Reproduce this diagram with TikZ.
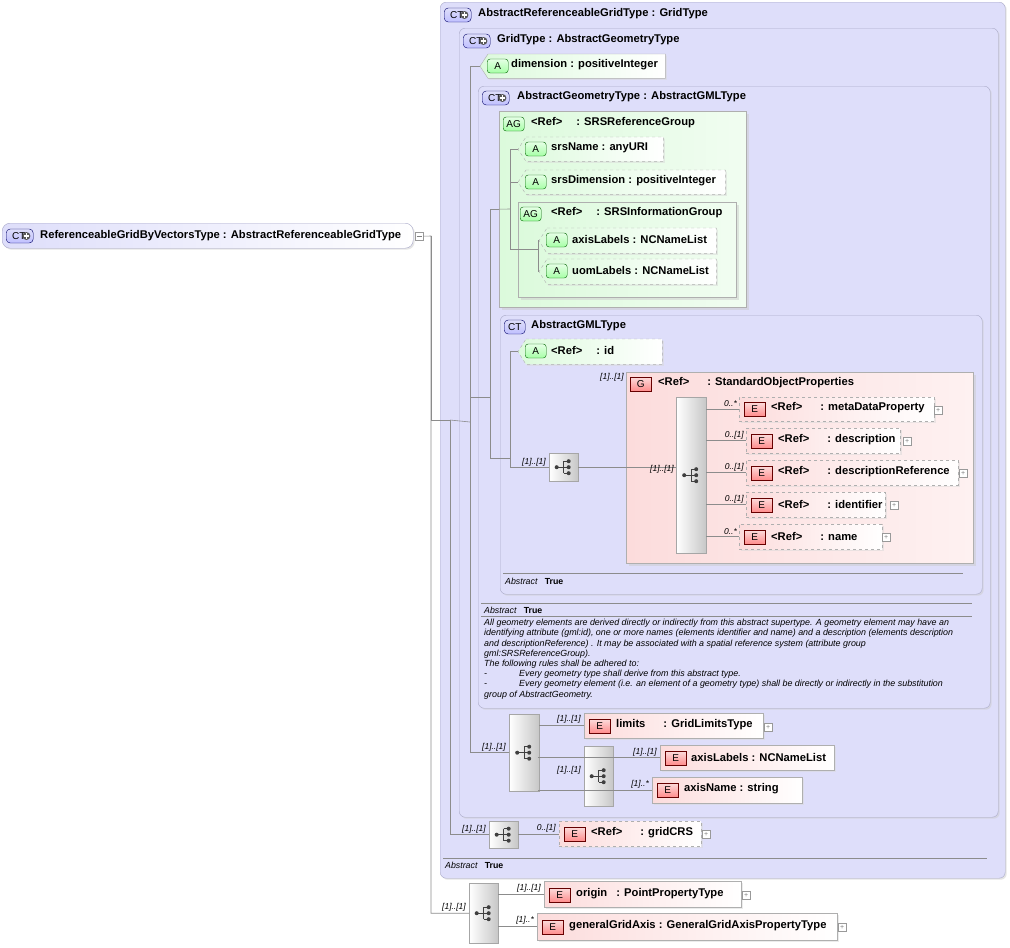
\documentclass[tikz,border=0pt]{standalone}
\usepackage{fontspec}
\setmainfont{Liberation Sans}
\usetikzlibrary{calc,shadows}
\definecolor{lav}{RGB}{222,222,250}
\definecolor{lavd}{RGB}{170,170,200}
\definecolor{grn}{RGB}{220,250,220}
\definecolor{pnk}{RGB}{252,220,220}
\definecolor{bord}{RGB}{175,175,175}
\definecolor{conn}{RGB}{140,140,140}
\tikzset{
 box/.style={anchor=north west,inner sep=0,draw=bord},
 ct/.style={box,fill=lav,draw=lavd,rounded corners=6pt,drop shadow={shadow xshift=1.5pt,shadow yshift=-1.5pt,fill=black!20}},
 grp/.style={box,left color=grn,right color=grn!40!white,draw=bord,drop shadow={shadow xshift=2.5pt,shadow yshift=-2.5pt,fill=black!20}},
 pgrp/.style={box,left color=pnk,right color=pnk!40!white,draw=bord,drop shadow={shadow xshift=2.5pt,shadow yshift=-2.5pt,fill=black!20}},
 el/.style={box,left color=pnk,right color=white,drop shadow={shadow xshift=1.5pt,shadow yshift=-1.5pt,fill=black!15}},
 opt/.style={dashed},
 seq/.style={box,left color=white,right color=black!22,draw=black!35},
 lbl/.style={anchor=west,inner sep=0,font=\bfseries\fontsize{11.2}{12}\selectfont},
 mul/.style={anchor=south east,inner sep=0,font=\itshape\fontsize{8.5}{9}\selectfont},
 abs/.style={anchor=west,inner sep=0,font=\fontsize{8.8}{9}\selectfont},
 cn/.style={draw=conn,line width=0.6pt},
 bE/.style={anchor=west,minimum width=21pt,minimum height=14pt,inner sep=0,draw=black!60!red,top color=pnk,bottom color=red!45,font=\fontsize{10}{10}\selectfont},
 bA/.style={anchor=west,minimum width=21pt,minimum height=14pt,inner sep=0,draw=black!60!green,top color=green!10,bottom color=green!35,rounded corners=3pt,font=\fontsize{10}{10}\selectfont},
 bC/.style={anchor=west,minimum width=27pt,minimum height=14pt,inner sep=0,draw=blue!40!black,top color=lav,bottom color=blue!25,rounded corners=4pt,font=\fontsize{10}{10}\selectfont},
 pl/.style={anchor=west,minimum size=8pt,inner sep=0,draw=black!40,fill=white,font=\fontsize{7}{7}\selectfont,text=black!50},
}
\newcommand\bx[6][]{\node[#1,minimum width={#5-#3},minimum height={#6-#4}] (#2) at (#3,#4) {};}
\newcommand\attr[6][]{\bx[box,draw=none,#1]{#2}{#3}{#4}{#5}{#6}
 \draw[draw=bord,left color=grn,right color=white,#1,drop shadow={shadow xshift=1.5pt,shadow yshift=-1.5pt,fill=black!15}] ($(#2.north west)+(8,0)$) -- (#2.north east) -- (#2.south east) -- ($(#2.south west)+(8,0)$) -- (#2.west) -- cycle;}
\newcommand\seqicon[1]{%
 \fill[black!75] ($(#1.center)+(-7,0)$) circle (2pt) ($(#1.center)+(5,-6)$) circle (2pt) ($(#1.center)+(5,0)$) circle (2pt) ($(#1.center)+(5,6)$) circle (2pt);
 \draw[black!75,line width=0.7pt] ($(#1.center)+(-7,0)$) -- ($(#1.center)+(5,0)$) ($(#1.center)+(0,-6)$) -- ($(#1.center)+(0,6)$) ($(#1.center)+(0,-6)$) -- ($(#1.center)+(5,-6)$) ($(#1.center)+(0,6)$) -- ($(#1.center)+(5,6)$);}
\newcommand\ctplus[2]{\node[bC] (#1) at (#2) {\hspace{-2pt}CT\hspace{9pt}};
 \fill[black!65] ($(#1.east)+(-7,0)$) circle (4pt);
 \draw[white,line width=1.3pt] ($(#1.east)+(-9.8,0)$) -- ($(#1.east)+(-4.2,0)$) ($(#1.east)+(-7,-2.8)$) -- ($(#1.east)+(-7,2.8)$);}
\begin{document}
\begin{tikzpicture}[x=1pt,y=-1pt]
\useasboundingbox (0,0) rectangle (1010,948);
\fill[white] (0,0) rectangle (1010,948);
% outer boxes
\bx[ct]{outer}{440}{2}{1005}{878}
\bx[ct]{grid}{459}{28}{998}{817}
\bx[ct]{geom}{478}{86}{990}{708}
\bx[grp]{srs}{499}{111}{746}{307}
\bx[grp]{srsi}{518}{202}{736}{297}
\bx[ct]{gml}{500}{315}{982}{594}
\bx[pgrp]{sop}{626}{372}{973}{563}
% root
\bx[ct,left color=lav,right color=white,rounded corners=8pt]{root}{2}{223}{413}{248}
\node[box,minimum size=8pt,fill=white,draw=black!40] (rm) at (415,232) {};
\draw[black!50] ($(rm.center)+(-2.5,0)$) -- ($(rm.center)+(2.5,0)$);
\ctplus{rc}{6,236}
\node[lbl] (rt) at (40,236) {ReferenceableGridByVectorsType : AbstractReferenceableGridType};
% headers
\ctplus{c1}{444,15}
\node[lbl] (t1) at (478,14) {AbstractReferenceableGridType : GridType};
\ctplus{c2}{463,41}
\node[lbl] (t2) at (497,40) {GridType : AbstractGeometryType};
\ctplus{c3}{482,98}
\node[lbl] (t3) at (517,97) {AbstractGeometryType : AbstractGMLType};
\node[bC,minimum width=21pt] (c4) at (504,327) {CT};
\node[lbl] (t4) at (531,326) {AbstractGMLType};
\node[bA] (g1) at (503,124) {AG}; \node[lbl] (t5) at (531,123) {<Ref>\hspace{14pt}: SRSReferenceGroup};
\node[bA] (g2) at (520,214) {AG}; \node[lbl] (t6) at (551,213) {<Ref>\hspace{14pt}: SRSInformationGroup};
\node[bE] (g3) at (630,384) {G}; \node[lbl] (t7) at (658,383) {<Ref>\hspace{18pt}: StandardObjectProperties};
\node[mul] (m0) at (624,381) {[1]..[1]};
% attributes
\attr{dim}{480}{54}{665}{78} \node[bA] (a1) at (487,66) {A}; \node[lbl] (ta1) at (511,65) {dimension : positiveInteger};
\attr[dashed]{sn}{518}{137}{663}{161} \node[bA] (a2) at (525,149) {A}; \node[lbl] (ta2) at (551,148) {srsName : anyURI};
\attr[dashed]{sd}{518}{170}{725}{194} \node[bA] (a3) at (525,182) {A}; \node[lbl] (ta3) at (551,181) {srsDimension : positiveInteger};
\attr[dashed]{al}{539}{228}{716}{253} \node[bA] (a4) at (546,240) {A}; \node[lbl] (ta4) at (572,239) {axisLabels : NCNameList};
\attr[dashed]{ul}{539}{259}{716}{284} \node[bA] (a5) at (546,271) {A}; \node[lbl] (ta5) at (572,270) {uomLabels : NCNameList};
\attr[dashed]{id}{518}{339}{662}{364} \node[bA] (a6) at (525,351) {A}; \node[lbl] (ta6) at (551,350) {<Ref>\hspace{14pt}: id};
% SOP
\bx[seq]{bar}{676}{397}{706}{553} \seqicon{bar}
\bx[seq]{ss}{549}{453}{578}{481} \seqicon{ss}
\bx[el,opt]{e1}{739}{397}{934}{421} \node[bE] (b1) at (744,409) {E}; \node[lbl] (te1) at (771,408) {<Ref>\hspace{18pt}: metaDataProperty}; \node[pl] (p1) at (934,410) {+};
\bx[el,opt]{e2}{746}{428}{900}{453} \node[bE] (b2) at (751,441) {E}; \node[lbl] (te2) at (778,440) {<Ref>\hspace{18pt}: description}; \node[pl] (p2) at (903,441) {+};
\bx[el,opt]{e3}{746}{460}{958}{485} \node[bE] (b3) at (751,473) {E}; \node[lbl] (te3) at (778,472) {<Ref>\hspace{18pt}: descriptionReference}; \node[pl] (p3) at (959,473) {+};
\bx[el,opt]{e4}{746}{492}{885}{517} \node[bE] (b4) at (751,505) {E}; \node[lbl] (te4) at (778,504) {<Ref>\hspace{18pt}: identifier}; \node[pl] (p4) at (890,505) {+};
\bx[el,opt]{e5}{739}{524}{882}{549} \node[bE] (b5) at (744,537) {E}; \node[lbl] (te5) at (771,536) {<Ref>\hspace{18pt}: name}; \node[pl] (p5) at (882,537) {+};
% grid content
\bx[seq]{ls}{509}{714}{539}{791} \seqicon{ls}
\bx[el]{lim}{584}{713}{763}{738} \node[bE] (b6) at (589,726) {E}; \node[lbl] (te6) at (616,725) {limits\hspace{18pt}: GridLimitsType}; \node[pl] (p6) at (764,727) {+};
\bx[seq]{s2}{584}{746}{613}{806} \seqicon{s2}
\bx[el]{axl}{660}{745}{834}{770} \node[bE] (b7) at (665,758) {E}; \node[lbl] (te7) at (691,757) {axisLabels : NCNameList};
\bx[el]{axn}{652}{777}{802}{803} \node[bE] (b8) at (657,790) {E}; \node[lbl] (te8) at (684,789) {axisName : string};
\bx[seq]{gs}{489}{821}{518}{848} \seqicon{gs}
\bx[el,opt]{gc}{559}{821}{701}{846} \node[bE] (b9) at (564,834) {E}; \node[lbl] (te9) at (591,833) {<Ref>\hspace{18pt}: gridCRS}; \node[pl] (p9) at (702,834) {+};
\bx[seq]{bs}{469}{883}{498}{943} \seqicon{bs}
\bx[el]{ori}{544}{881}{741}{907} \node[bE] (b10) at (549,895) {E}; \node[lbl] (te10) at (576,894) {origin\hspace{9pt}: PointPropertyType}; \node[pl] (p10) at (742,895) {+};
\bx[el]{gga}{537}{913}{837}{940} \node[bE] (b11) at (542,927) {E}; \node[lbl] (te11) at (569,926) {generalGridAxis : GeneralGridAxisPropertyType}; \node[pl] (p11) at (838,927) {+};
% abstract lines
\draw[black!45] (503,573) -- (963,573); \node[abs] (ab1) at (505,581) {\textit{Abstract}\hspace{7pt}\textbf{True}};
\draw[black!45] (481,603) -- (972,603); \node[abs] (ab2) at (484,610) {\textit{Abstract}\hspace{7pt}\textbf{True}};
\draw[black!45] (481,616) -- (972,616);
\node[anchor=north west,inner sep=0,font=\itshape\fontsize{8.9}{10.2}\selectfont,align=left] (doc) at (484,619) {All geometry elements are derived directly or indirectly from this abstract supertype. A geometry element may have an\\identifying attribute (gml:id), one or more names (elements identifier and name) and a description (elements description\\and descriptionReference) . It may be associated with a spatial reference system (attribute group\\gml:SRSReferenceGroup).\\The following rules shall be adhered to:\\-\hspace{32pt}Every geometry type shall derive from this abstract type.\\-\hspace{32pt}Every geometry element (i.e. an element of a geometry type) shall be directly or indirectly in the substitution\\group of AbstractGeometry.};
\draw[black!45] (443,858) -- (987,858); \node[abs] (ab3) at (445,865) {\textit{Abstract}\hspace{7pt}\textbf{True}};
% connectors
\coordinate (j1) at (431,236); \coordinate (j2) at (450,420); \coordinate (j3) at (470,422);
\coordinate (j4) at (490,397); \coordinate (j5) at (510,458); \coordinate (s1) at (510,209); \coordinate (s2) at (538,249);
\draw[cn] (rm.east) -- (j1) |- (bs.west);
\draw[cn] (j1) |- (j2) |- (gs.west);
\draw[cn] (j2) -- (j3); \draw[cn] (j3) |- (dim.west); \draw[cn] (j3) |- (ls.west);
\draw[cn] (j3 |- j4) -- (j4); \draw[cn] (j4) |- (srs.west); \draw[cn] (j4) |- (j5);
\draw[cn] (srs.west) -- (s1); \draw[cn] (s1) |- (sn.west); \draw[cn] (s1) |- (sd.west); \draw[cn] (s1) |- (s2);
\draw[cn] (s2) |- (al.west); \draw[cn] (s2) |- (ul.west);
\draw[cn] (j5) |- (id.west); \draw[cn] (j5) |- (ss.west);
\draw[cn] (ss.east) -- (ss.east -| bar.west);
\foreach \e in {e1,e2,e3,e4,e5} \draw[cn] (bar.east |- \e.west) -- (\e.west);
\draw[cn] (ls.east |- lim.west) -- (lim.west); \draw[cn] (ls.east |- s2.west) -- (s2.west);
\draw[cn] (s2.east |- axl.west) -- (axl.west); \draw[cn] (s2.east |- axn.west) -- (axn.west);
\draw[cn] (gs.east) -- (gs.east -| gc.west);
\draw[cn] (bs.east |- ori.west) -- (ori.west); \draw[cn] (bs.east |- gga.west) -- (gga.west);
% multiplicities
\node[mul] (n1) at (546,466) {[1]..[1]}; \node[mul] (n2) at (674,473) {[1]..[1]};
\node[mul] (n3) at (737,407) {0..*}; \node[mul] (n4) at (744,439) {0..[1]}; \node[mul] (n5) at (744,471) {0..[1]};
\node[mul] (n6) at (744,503) {0..[1]}; \node[mul] (n7) at (737,535) {0..*};
\node[mul] (n8) at (506,751) {[1]..[1]}; \node[mul] (n9) at (581,723) {[1]..[1]}; \node[mul] (n10) at (581,774) {[1]..[1]};
\node[mul] (n11) at (657,756) {[1]..[1]}; \node[mul] (n12) at (649,788) {[1]..*};
\node[mul] (n13) at (486,833) {[1]..[1]}; \node[mul] (n14) at (556,832) {0..[1]};
\node[mul] (n15) at (466,911) {[1]..[1]}; \node[mul] (n16) at (541,892) {[1]..[1]}; \node[mul] (n17) at (534,924) {[1]..*};
\end{tikzpicture}
\end{document}
